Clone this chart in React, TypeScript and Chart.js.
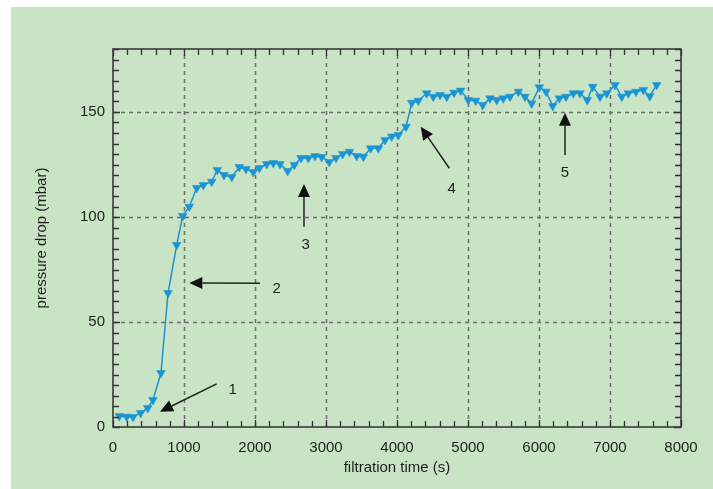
import React, { useEffect, useRef } from "react";
import { Chart, registerables } from "chart.js";

Chart.register(...registerables);

// filtration time (s)
const times = [
  89, 193, 282, 390, 489, 563, 676, 775, 897, 982,
  1075, 1179, 1272, 1390, 1469, 1563, 1672, 1779, 1873, 1976,
  2061, 2165, 2258, 2352, 2461, 2554, 2648, 2751, 2845, 2939,
  3046, 3141, 3235, 3330, 3432, 3526, 3629, 3737, 3831, 3925,
  4019, 4127, 4207, 4300, 4418, 4512, 4606, 4700, 4803, 4897,
  5004, 5108, 5207, 5310, 5404, 5497, 5592, 5709, 5803, 5897,
  6004, 6099, 6193, 6286, 6380, 6483, 6577, 6680, 6756, 6859,
  6954, 7070, 7165, 7258, 7366, 7470, 7560, 7657,
];

// pressure drop (mbar)
const pressure = [
  5.2, 4.9, 4.8, 6.7, 9.0, 12.9, 25.7, 63.8, 86.7, 100.5,
  104.9, 113.8, 115.2, 116.8, 122.4, 120.0, 119.0, 123.8, 122.9, 121.4,
  123.3, 125.2, 125.7, 125.2, 121.9, 124.8, 128.1, 128.1, 129.0, 128.6,
  126.2, 128.1, 130.0, 131.1, 129.0, 128.7, 132.7, 132.7, 136.7, 138.3,
  139.0, 143.0, 154.4, 155.4, 158.9, 157.3, 158.1, 157.3, 159.2, 160.2,
  155.7, 155.4, 153.3, 156.5, 155.7, 156.5, 157.3, 159.7, 157.3, 154.1,
  161.8, 159.7, 152.9, 156.5, 157.3, 158.9, 158.9, 155.7, 162.0, 157.3,
  158.9, 162.9, 157.3, 158.9, 159.7, 160.5, 157.5, 162.9,
];

const xTickValues = [0, 1000, 2000, 3000, 4000, 5000, 6000, 7000, 8000];
const yTickValues = [0, 50, 100, 150];

const xTitle = "filtration time (s)";
const yTitle = "pressure drop (mbar)";

// annotations (data coordinates)
const annotationLabels = ["1", "2", "3", "4", "5"];
const arrowTails = [
  [1460, 20.5],
  [2070, 68.4],
  [2690, 95.4],
  [4737, 123.2],
  [6366, 129.5],
];
const arrowHeads = [
  [662, 7.3],
  [1075, 68.6],
  [2690, 115.7],
  [4334, 143.0],
  [6366, 149.7],
];
const labelPositions = [
  [1686, 17.9],
  [2306, 66.0],
  [2714, 86.7],
  [4770, 113.2],
  [6366, 120.8],
];

const GREEN = "#c9e3c5";
const BLUE = "#1a94d2";
const FONT = "'Liberation Sans', Arial, Helvetica, sans-serif";

const framePlugin = {
  id: "frame",
  beforeDatasetsDraw(chart: any) {
    const { ctx, chartArea: a, scales } = chart;
    const x = scales.x;
    const y = scales.y;
    ctx.save();
    ctx.strokeStyle = "#6e6e6e";
    ctx.lineWidth = 1.5;
    ctx.setLineDash([4, 4]);
    xTickValues.forEach((v) => {
      if (v === 0 || v === 8000) return;
      const px = Math.round(x.getPixelForValue(v)) + 0.5;
      ctx.beginPath();
      ctx.moveTo(px, a.bottom);
      ctx.lineTo(px, a.top);
      ctx.stroke();
    });
    yTickValues.forEach((v) => {
      if (v === 0) return;
      const py = Math.round(y.getPixelForValue(v)) + 0.5;
      ctx.beginPath();
      ctx.moveTo(a.left, py);
      ctx.lineTo(a.right, py);
      ctx.stroke();
    });
    ctx.restore();
  },
  afterDraw(chart: any) {
    const { ctx, chartArea: a, scales } = chart;
    const x = scales.x;
    const y = scales.y;
    ctx.save();
    // tick marks (inward, mirrored)
    ctx.strokeStyle = "#333";
    ctx.lineWidth = 1.3;
    for (let v = 0; v <= 8000; v += 200) {
      const px = Math.round(x.getPixelForValue(v)) + 0.5;
      const len = v % 1000 === 0 ? 7 : 6;
      ctx.beginPath();
      ctx.moveTo(px, a.bottom);
      ctx.lineTo(px, a.bottom - len);
      ctx.moveTo(px, a.top);
      ctx.lineTo(px, a.top + len);
      ctx.stroke();
    }
    for (let v = 0; v <= 180; v += 5) {
      const py = Math.round(y.getPixelForValue(v)) + 0.5;
      const len = v % 50 === 0 ? 7 : 6;
      ctx.beginPath();
      ctx.moveTo(a.left, py);
      ctx.lineTo(a.left + len, py);
      ctx.moveTo(a.right, py);
      ctx.lineTo(a.right - len, py);
      ctx.stroke();
    }
    // frame
    ctx.strokeStyle = "#3a3a3a";
    ctx.lineWidth = 1.6;
    ctx.strokeRect(a.left, a.top, a.right - a.left, a.bottom - a.top);

    // axis titles
    ctx.fillStyle = "#1e1e1e";
    ctx.font = `15px ${FONT}`;
    ctx.textAlign = "center";
    ctx.textBaseline = "middle";
    ctx.fillText(xTitle, (a.left + a.right) / 2, 461);
    ctx.save();
    ctx.translate(31, (a.top + a.bottom) / 2);
    ctx.rotate(-Math.PI / 2);
    ctx.fillText(yTitle, 0, 0);
    ctx.restore();

    // arrows
    arrowTails.forEach((t, i) => {
      const tx = x.getPixelForValue(t[0]);
      const ty = y.getPixelForValue(t[1]);
      const hx = x.getPixelForValue(arrowHeads[i][0]);
      const hy = y.getPixelForValue(arrowHeads[i][1]);
      const dx = hx - tx;
      const dy = hy - ty;
      const L = Math.hypot(dx, dy);
      const ux = dx / L;
      const uy = dy / L;
      const headLen = 13;
      const headW = 6;
      const bx = hx - ux * headLen;
      const by = hy - uy * headLen;
      ctx.strokeStyle = "#222";
      ctx.lineWidth = 1.5;
      ctx.beginPath();
      ctx.moveTo(tx, ty);
      ctx.lineTo(bx, by);
      ctx.stroke();
      ctx.fillStyle = "#111";
      ctx.beginPath();
      ctx.moveTo(hx, hy);
      ctx.lineTo(bx - uy * headW, by + ux * headW);
      ctx.lineTo(bx + uy * headW, by - ux * headW);
      ctx.closePath();
      ctx.fill();
      const lp = labelPositions[i];
      ctx.fillStyle = "#1e1e1e";
      ctx.font = `15px ${FONT}`;
      ctx.textAlign = "center";
      ctx.textBaseline = "middle";
      ctx.fillText(
        annotationLabels[i],
        x.getPixelForValue(lp[0]),
        y.getPixelForValue(lp[1])
      );
    });
    ctx.restore();
  },
};

export default function App() {
  const ref = useRef<HTMLCanvasElement | null>(null);
  useEffect(() => {
    if (!ref.current) return;
    const chart = new Chart(ref.current, {
      type: "line",
      data: {
        datasets: [
          {
            data: times.map((t, i) => ({ x: t, y: pressure[i] })),
            borderColor: BLUE,
            backgroundColor: BLUE,
            borderWidth: 1.5,
            pointStyle: "triangle",
            rotation: 180,
            pointRadius: 5,
            pointBackgroundColor: BLUE,
            pointBorderColor: BLUE,
            pointBorderWidth: 0.5,
            tension: 0,
            fill: false,
          } as any,
        ],
      },
      options: {
        responsive: false,
        animation: false,
        events: [],
        layout: { padding: { top: 42, right: 32, left: 0, bottom: 0 } },
        plugins: { legend: { display: false }, tooltip: { enabled: false } },
        scales: {
          x: {
            type: "linear",
            min: 0,
            max: 8000,
            grid: { display: false, drawTicks: false },
            border: { display: false },
            afterBuildTicks: (s: any) => {
              s.ticks = xTickValues.map((v) => ({ value: v }));
            },
            afterFit: (s: any) => {
              s.height = 62;
            },
            ticks: {
              autoSkip: false,
              maxRotation: 0,
              padding: 12,
              color: "#1e1e1e",
              font: { family: FONT, size: 15 },
              callback: (v: any) => String(v),
            },
          },
          y: {
            type: "linear",
            min: 0,
            max: 180,
            grid: { display: false, drawTicks: false },
            border: { display: false },
            afterBuildTicks: (s: any) => {
              s.ticks = yTickValues.map((v) => ({ value: v }));
            },
            afterFit: (s: any) => {
              s.width = 102;
            },
            ticks: {
              padding: 8,
              color: "#1e1e1e",
              font: { family: FONT, size: 15 },
              callback: (v: any) => String(v),
            },
          },
        },
      },
      plugins: [framePlugin],
    });
    return () => chart.destroy();
  }, []);

  return (
    <div
      style={{
        position: "absolute",
        left: 11,
        top: 7,
        width: 702,
        height: 482,
        background: GREEN,
      }}
    >
      <canvas ref={ref} width={702} height={482} style={{ display: "block" }} />
    </div>
  );
}
